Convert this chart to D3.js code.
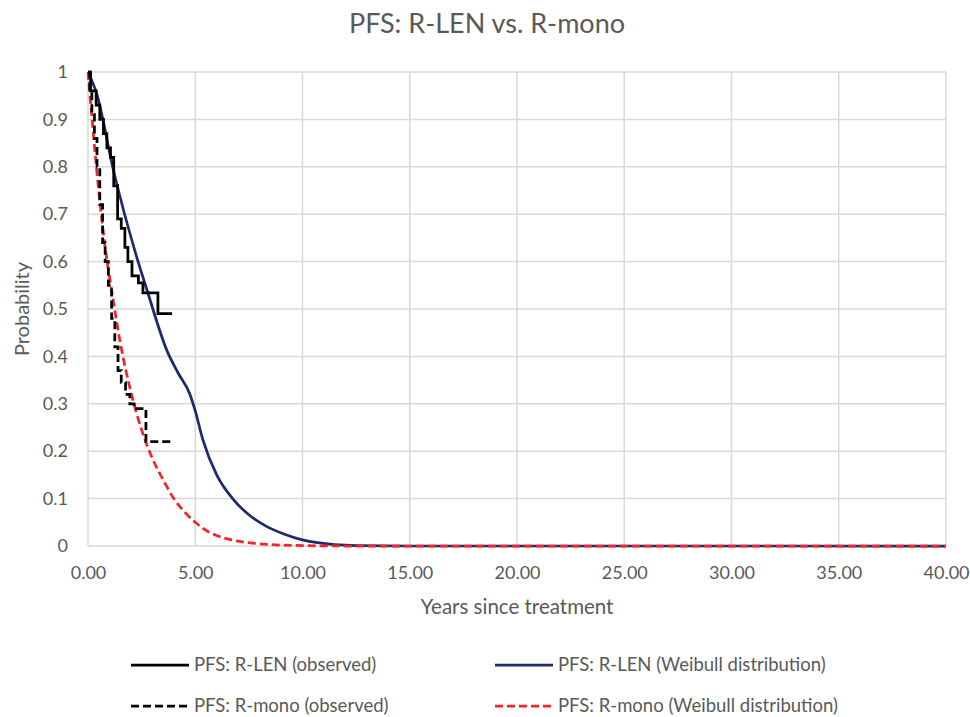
<!DOCTYPE html>
<html>
<head>
<meta charset="utf-8">
<script src="https://d3js.org/d3.v7.min.js"></script>
<style>
  body { margin: 0; background: #fff; }
  text { font-family: Lato, "Open Sans", sans-serif; fill: #595959; }
  .grid line { stroke: #d9d9d9; stroke-width: 1.5px; }
  .axis path, .axis line { display: none; }
</style>
</head>
<body>
<script>
// R-LEN observed (Kaplan-Meier steps)
var lenObsT = [0, 0.12, 0.38, 0.55, 0.72, 0.88, 1.05, 1.2, 1.38, 1.55, 1.72, 1.86, 2.05, 2.35, 2.56, 3.26, 3.92];
var lenObsP = [1, 0.96, 0.93, 0.90, 0.87, 0.84, 0.82, 0.76, 0.69, 0.67, 0.63, 0.60, 0.57, 0.555, 0.534, 0.49, 0.49];
// R-mono observed
var monoObsT = [0, 0.08, 0.18, 0.3, 0.42, 0.55, 0.68, 0.8, 0.95, 1.1, 1.25, 1.4, 1.55, 1.75, 1.95, 2.15, 2.7, 3.95];
var monoObsP = [1, 0.96, 0.91, 0.86, 0.80, 0.72, 0.64, 0.60, 0.55, 0.48, 0.42, 0.37, 0.345, 0.32, 0.30, 0.29, 0.22, 0.22];
// R-LEN Weibull fit
var lenFitT = [0, 0.4, 1.2, 2.3, 2.75, 3.7, 4.2, 4.75, 5.0, 5.35, 6.0, 6.8, 7.5, 8.3, 9.1, 10.0, 10.7, 11.5, 12.5, 15, 40];
var lenFitP = [1, 0.955, 0.79, 0.605, 0.54, 0.41, 0.365, 0.32, 0.285, 0.225, 0.15, 0.097, 0.066, 0.042, 0.026, 0.013, 0.007, 0.003, 0.001, 0, 0];
// R-mono Weibull fit
var monoFitT = [0, 0.25, 0.5, 0.8, 1.1, 1.5, 2.0, 2.5, 3.0, 3.5, 4.0, 4.5, 5.0, 5.7, 6.5, 7.5, 8.5, 10, 12, 15, 40];
var monoFitP = [1, 0.87, 0.75, 0.63, 0.54, 0.43, 0.325, 0.245, 0.185, 0.14, 0.10, 0.072, 0.05, 0.028, 0.015, 0.007, 0.003, 0.001, 0, 0, 0];

var xTicks = [0, 5, 10, 15, 20, 25, 30, 35, 40];
var yTicks = [0, 0.1, 0.2, 0.3, 0.4, 0.5, 0.6, 0.7, 0.8, 0.9, 1];

var W = 970, H = 717;
var margin = {top: 72, right: 24, bottom: 171, left: 88};
var width = W - margin.left - margin.right,
    height = H - margin.top - margin.bottom;

var svg = d3.select("body").append("svg")
    .attr("width", W).attr("height", H);

svg.append("text")
    .attr("x", 487).attr("y", 33)
    .attr("text-anchor", "middle")
    .style("font-size", "27px")
    .text("PFS: R-LEN vs. R-mono");

var g = svg.append("g").attr("transform", "translate(" + margin.left + "," + margin.top + ")");

var x = d3.scaleLinear().domain([0, 40]).range([0, width]);
var y = d3.scaleLinear().domain([0, 1]).range([height, 0]);

// grid
g.append("g").attr("class", "grid")
    .selectAll("line.h").data(yTicks).enter().append("line")
    .attr("x1", 0).attr("x2", width)
    .attr("y1", function(d) { return y(d); }).attr("y2", function(d) { return y(d); });
g.append("g").attr("class", "grid")
    .selectAll("line.v").data(xTicks).enter().append("line")
    .attr("y1", 0).attr("y2", height)
    .attr("x1", function(d) { return x(d); }).attr("x2", function(d) { return x(d); });

// axes (labels only)
var xAxis = g.append("g").attr("class", "axis")
    .attr("transform", "translate(0," + height + ")")
    .call(d3.axisBottom(x).tickValues(xTicks).tickSize(0).tickPadding(20).tickFormat(d3.format(".2f")));
xAxis.selectAll("text").style("font-size", "18px").style("font-family", "Lato, sans-serif").attr("fill", "#595959");

var yAxis = g.append("g").attr("class", "axis")
    .call(d3.axisLeft(y).tickValues(yTicks).tickSize(0).tickPadding(20).tickFormat(function(d) { return d3.format("")(+d.toFixed(1)); }));
yAxis.selectAll("text").style("font-size", "18px").style("font-family", "Lato, sans-serif").attr("fill", "#595959");

svg.append("text")
    .attr("x", margin.left + width / 2).attr("y", 614)
    .attr("text-anchor", "middle")
    .style("font-size", "20.5px")
    .text("Years since treatment");

svg.append("text")
    .attr("transform", "translate(29," + (margin.top + height / 2) + ") rotate(-90)")
    .attr("text-anchor", "middle")
    .style("font-size", "20px")
    .text("Probability");

function pairs(ts, ps) { return ts.map(function(t, i) { return [t, ps[i]]; }); }

var smooth = d3.line().x(function(d) { return x(d[0]); }).y(function(d) { return y(d[1]); }).curve(d3.curveMonotoneX);
var step = d3.line().x(function(d) { return x(d[0]); }).y(function(d) { return y(d[1]); }).curve(d3.curveStepAfter);

var series = [
  {name: "PFS: R-LEN (Weibull distribution)", data: pairs(lenFitT, lenFitP), line: smooth, color: "#1f2a6e", dash: null},
  {name: "PFS: R-mono (Weibull distribution)", data: pairs(monoFitT, monoFitP), line: smooth, color: "#f0262a", dash: "8,4"},
  {name: "PFS: R-mono (observed)", data: pairs(monoObsT, monoObsP), line: step, color: "#000", dash: "8,4"},
  {name: "PFS: R-LEN (observed)", data: pairs(lenObsT, lenObsP), line: step, color: "#000", dash: null}
];

series.forEach(function(s) {
  g.append("path")
    .datum(s.data)
    .attr("fill", "none")
    .attr("stroke", s.color)
    .attr("stroke-width", 2.75)
    .attr("stroke-dasharray", s.dash)
    .attr("d", s.line);
});

// legend
var legend = [
  {name: "PFS: R-LEN (observed)", color: "#000", dash: null, lx: 131, ly: 665},
  {name: "PFS: R-LEN (Weibull distribution)", color: "#1f2a6e", dash: null, lx: 495, ly: 665},
  {name: "PFS: R-mono (observed)", color: "#000", dash: "8,4", lx: 131, ly: 706},
  {name: "PFS: R-mono (Weibull distribution)", color: "#f0262a", dash: "8,4", lx: 495, ly: 706}
];
legend.forEach(function(l) {
  svg.append("line")
    .attr("x1", l.lx).attr("x2", l.lx + 58)
    .attr("y1", l.ly).attr("y2", l.ly)
    .attr("stroke", l.color).attr("stroke-width", 2.75)
    .attr("stroke-dasharray", l.dash);
  svg.append("text")
    .attr("x", l.lx + 63).attr("y", l.ly + 6)
    .style("font-size", "18.5px")
    .text(l.name);
});
</script>
</body>
</html>
